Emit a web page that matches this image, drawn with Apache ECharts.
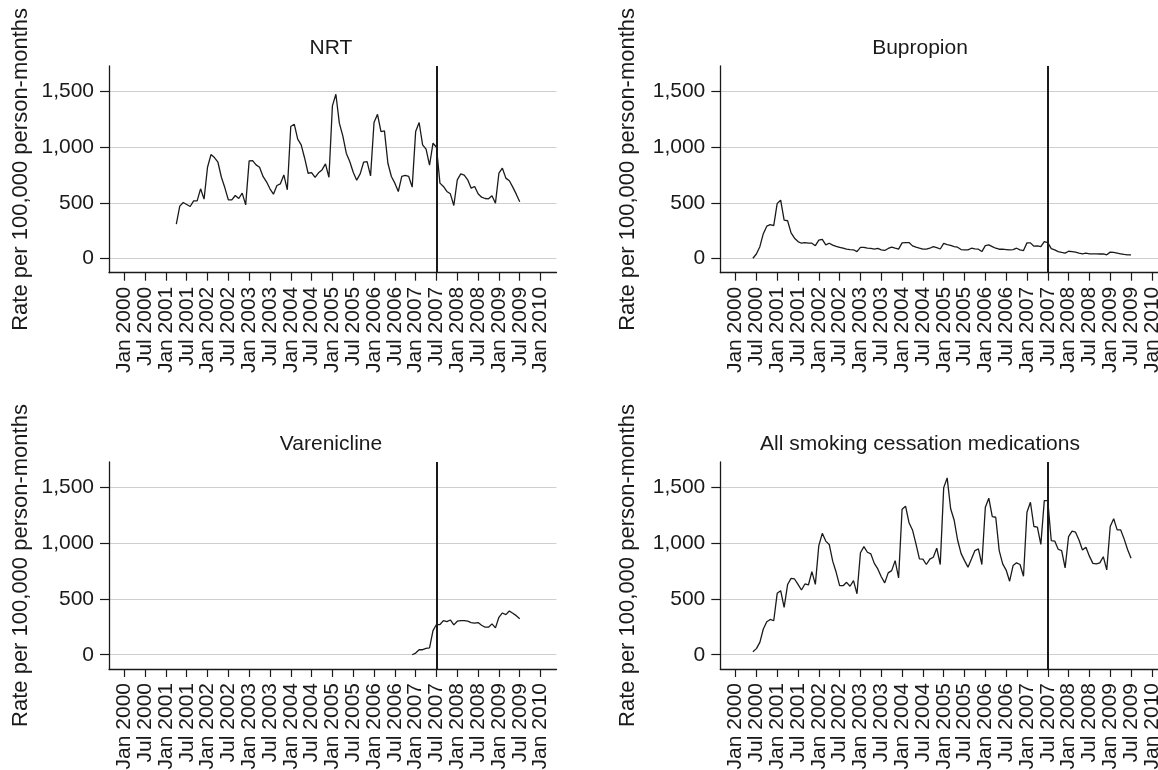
<!DOCTYPE html>
<html><head><meta charset="utf-8">
<script src="https://cdn.jsdelivr.net/npm/echarts@6/dist/echarts.min.js"></script>
<style>html,body{margin:0;padding:0;background:#fff}#c{width:1158px;height:770px}</style>
</head><body><div id="c"></div>
<script>
// Month index: 0 = Jan 2000
const panelTitles = ['NRT', 'Bupropion', 'Varenicline', 'All smoking cessation medications'];
const yAxisTitle = 'Rate per 100,000 person-months';
const yTicks = [0, 500, 1000, 1500];
const xTickMonths = [0, 6, 12, 18, 24, 30, 36, 42, 48, 54, 60, 66, 72, 78, 84, 90, 96, 102, 108, 114, 120];
const xTickLabels = ['Jan 2000', 'Jul 2000', 'Jan 2001', 'Jul 2001', 'Jan 2002', 'Jul 2002', 'Jan 2003', 'Jul 2003',
  'Jan 2004', 'Jul 2004', 'Jan 2005', 'Jul 2005', 'Jan 2006', 'Jul 2006', 'Jan 2007', 'Jul 2007',
  'Jan 2008', 'Jul 2008', 'Jan 2009', 'Jul 2009', 'Jan 2010'];
const policyMonth = 90; // Jul 2007

const nrtStart = 15; // Apr 2001
const nrt = [308, 470, 503, 485, 467, 518, 518, 626, 533, 820,
  934, 907, 865, 730, 635, 527, 527, 566, 539, 587,
  482, 877, 880, 841, 820, 737, 689, 626, 578, 656,
  671, 751, 617, 1186, 1207, 1072, 1021, 901, 766, 772,
  728, 770, 796, 850, 730, 1371, 1476, 1216, 1102, 946,
  871, 775, 704, 760, 865, 871, 742, 1222, 1296, 1141,
  1147, 856, 737, 677, 602, 737, 746, 737, 641, 1141,
  1222, 1021, 982, 838, 1036, 1000, 677, 647, 602, 581,
  476, 707, 760, 749, 707, 632, 647, 581, 551, 539,
  536, 563, 497, 766, 811, 722, 698, 641, 578, 509];

const bupropionStart = 5; // Jun 2000
const bupropion = [2, 40, 106, 223, 290, 304, 295, 495, 524, 345,
  339, 230, 182, 152, 137, 143, 137, 137, 115, 165,
  172, 122, 137, 120, 108, 100, 92, 84, 80, 78,
  62, 100, 100, 92, 90, 84, 90, 78, 72, 90,
  101, 92, 84, 140, 143, 143, 113, 101, 92, 84,
  84, 92, 107, 98, 85, 135, 125, 118, 107, 101,
  80, 77, 77, 92, 86, 83, 62, 116, 122, 107,
  92, 83, 83, 80, 77, 80, 92, 77, 71, 140,
  140, 110, 113, 107, 152, 143, 89, 77, 62, 54,
  48, 65, 62, 56, 48, 42, 48, 42, 42, 42,
  40, 42, 33, 57, 54, 48, 42, 36, 33, 33];

const vareniclineStart = 83; // Dec 2006
const varenicline = [0, 15, 45, 45, 57, 62, 217, 271, 271, 306,
  298, 312, 268, 301, 306, 306, 301, 289, 283, 289,
  265, 247, 247, 277, 241, 336, 375, 360, 393, 372,
  351, 324];

const allStart = 5; // Jun 2000
const allMeds = [27, 55, 111, 231, 296, 317, 305, 551, 575, 425,
  630, 686, 680, 632, 581, 635, 626, 746, 632, 980,
  1090, 1020, 990, 840, 740, 620, 620, 650, 615, 665,
  547, 915, 970, 920, 905, 820, 770, 700, 645, 735,
  755, 845, 690, 1306, 1333, 1185, 1120, 995, 860, 858,
  810, 858, 875, 957, 810, 1500, 1587, 1310, 1210, 1030,
  910, 845, 786, 860, 935, 950, 810, 1324, 1405, 1240,
  1234, 935, 816, 760, 660, 800, 825, 810, 705, 1279,
  1369, 1151, 1145, 990, 1384, 1384, 1025, 1020, 947, 935,
  780, 1061, 1109, 1100, 1030, 940, 965, 885, 820, 816,
  825, 880, 762, 1151, 1220, 1121, 1121, 1040, 945, 867];

const seriesList = [[nrtStart, nrt], [bupropionStart, bupropion], [vareniclineStart, varenicline], [allStart, allMeds]];

const FONT = "'Liberation Sans', Arial, Helvetica, sans-serif";
const INK = '#1a1a1a';
const gridBoxes = [
  {left: 109, top: 66, width: 447.5, height: 206.7},
  {left: 720.3, top: 66, width: 447.5, height: 206.7},
  {left: 109, top: 462, width: 447.5, height: 207},
  {left: 720.3, top: 462, width: 447.5, height: 207}
];
const titlePos = [{x: 331, y: 38}, {x: 920, y: 38}, {x: 331, y: 434}, {x: 920, y: 434}];
const nameGaps = [77, 81, 77, 81];

const option = {
  animation: false,
  backgroundColor: '#fff',
  textStyle: {fontFamily: FONT, color: INK},
  title: panelTitles.map((t, i) => ({
    text: t, left: titlePos[i].x, top: titlePos[i].y, textAlign: 'center', padding: 0,
    textStyle: {fontFamily: FONT, fontSize: 21, fontWeight: 'normal', color: INK}
  })),
  grid: gridBoxes.map(g => Object.assign({containLabel: false, outerBoundsMode: 'none'}, g)),
  xAxis: gridBoxes.map((g, i) => ({
    type: 'value', gridIndex: i, min: -4.4, max: 124.6,
    axisLine: {show: true, onZero: false, lineStyle: {color: INK, width: 1.3}},
    axisTick: {show: true, length: 8, lineStyle: {color: INK, width: 1.2}, customValues: xTickMonths},
    axisLabel: {show: true, rotate: 90, margin: 14, fontSize: 21, color: INK, fontFamily: FONT,
      customValues: xTickMonths,
      formatter: v => xTickLabels[xTickMonths.indexOf(Math.round(v))] || ''},
    splitLine: {show: false}
  })),
  yAxis: gridBoxes.map((g, i) => ({
    type: 'value', gridIndex: i, min: -128, max: 1730,
    name: yAxisTitle, nameLocation: 'middle', nameGap: nameGaps[i],
    nameTextStyle: {fontSize: 22, color: INK, fontFamily: FONT},
    axisLine: {show: true, onZero: false, lineStyle: {color: INK, width: 1.3}},
    axisTick: {show: true, length: 9, lineStyle: {color: INK, width: 1.2}, customValues: yTicks},
    axisLabel: {show: true, margin: 15, fontSize: 21, color: INK, fontFamily: FONT,
      customValues: yTicks,
      formatter: v => Math.round(v).toLocaleString('en-US')},
    splitLine: {show: true, lineStyle: {color: '#cfcfcf', width: 1.2}}
  })),
  series: seriesList.map(([start, vals], i) => ({
    type: 'line', xAxisIndex: i, yAxisIndex: i,
    data: vals.map((v, k) => [start + k, v]),
    showSymbol: false, symbol: 'none', silent: true,
    lineStyle: {color: INK, width: 1.3},
    markLine: {
      symbol: 'none', silent: true, label: {show: false},
      lineStyle: {color: INK, width: 2, type: 'solid'},
      data: [{xAxis: policyMonth}]
    }
  }))
};
const chart = echarts.init(document.getElementById('c'), null, {renderer: 'canvas'});
chart.setOption(option);
</script></body></html>
